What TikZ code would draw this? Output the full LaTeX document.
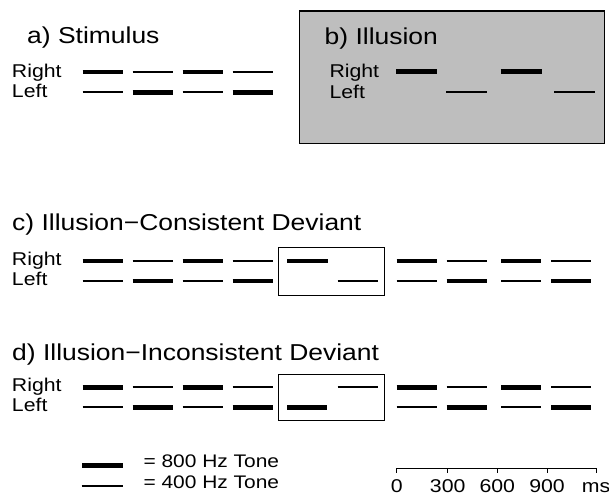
\documentclass[tikz,border=0pt]{standalone}
\usepackage{fontspec}
\usepackage{graphicx}
\setmainfont{Liberation Sans}
\definecolor{panelgray}{RGB}{190,190,190}
\newcommand{\widetext}[1]{\scalebox{1.15}[1]{#1}}
\tikzset{
  hi/.style={line width=4.7pt},
  lo/.style={line width=2pt},
  ttl/.style={anchor=base west, inner sep=0pt, font=\fontsize{23}{27}\selectfont},
  ear/.style={anchor=base west, inner sep=0pt, font=\fontsize{18.5}{22}\selectfont},
  lgd/.style={anchor=base west, inner sep=0pt, font=\fontsize{18.2}{21}\selectfont},
  tick/.style={anchor=base, inner sep=0pt, font=\fontsize{18.5}{22}\selectfont}
}
\begin{document}
\begin{tikzpicture}[x=1pt,y=-1pt]
\useasboundingbox (0,0) rectangle (609,498);
% a) stimulus
\node[ttl] (ta) at (27,43.3) {\widetext{a) Stimulus}};
\node[ear] (ra) at (11.8,77.3) {\widetext{Right}};
\node[ear] (la) at (11.8,97.8) {\widetext{Left}};
\foreach \x/\r/\l in {82.5/hi/lo, 132.5/lo/hi, 182.5/hi/lo, 232.5/lo/hi} {
  \draw[\r] (\x,72) -- ++(40,0);
  \draw[\l] (\x,92.3) -- ++(40,0);
}
% b) illusion
\draw[fill=panelgray, line width=1.2pt] (299.3,11) rectangle (604.3,143.3);
\node[ttl] (tb) at (324.5,44) {\widetext{b) Illusion}};
\node[ear] (rb) at (329.3,77.3) {\widetext{Right}};
\node[ear] (lb) at (329.3,98.3) {\widetext{Left}};
\draw[hi] (396,71.7) -- (436.7,71.7);
\draw[lo] (446,92.3) -- (486.7,92.3);
\draw[hi] (500.7,71.7) -- (541.7,71.7);
\draw[lo] (554.3,92.3) -- (595,92.3);
% c) and d) standard tones
\node[ttl] (tc) at (12,230) {\widetext{c) Illusion−Consistent Deviant}};
\node[ttl] (td) at (12,360) {\widetext{d) Illusion−Inconsistent Deviant}};
\foreach \ry/\ly in {261/281, 387.3/407.3} {
  \node[ear] at (11.8,\ry+4.5) {\widetext{Right}};
  \node[ear] at (11.8,\ly+4.5) {\widetext{Left}};
  \foreach \x/\r/\l in {82.7/hi/lo, 132.7/lo/hi, 182.7/hi/lo, 232.7/lo/hi,
                        396.7/hi/lo, 446.7/lo/hi, 501/hi/lo, 551/lo/hi} {
    \draw[\r] (\x,\ry) -- ++(40,0);
    \draw[\l] (\x,\ly) -- ++(40,0);
  }
}
% deviants
\draw[line width=1pt] (278.3,247.7) rectangle (384,295);
\draw[hi] (287.3,261) -- (328.3,261);
\draw[lo] (337.7,281) -- (378.3,281);
\draw[line width=1pt] (278.3,374.3) rectangle (384,420.7);
\draw[hi] (287.3,407.3) -- (327,407.3);
\draw[lo] (337.7,387.3) -- (378.3,387.3);
% legend
\draw[hi] (82.3,465.7) -- (122.7,465.7);
\draw[lo] (81.7,485.7) -- (122.7,485.7);
\node[lgd] (hz8) at (143.3,467.3) {\widetext{= 800 Hz Tone}};
\node[lgd] (hz4) at (143.3,488.3) {\widetext{= 400 Hz Tone}};
% time scale
\coordinate (s0) at (396.7,468.3);
\coordinate (s4) at (596,468.3);
\draw[line width=1pt] (s0) -- (s4);
\foreach \x/\t in {396.7/0, 447.7/300, 497.3/600, 547/900, 596/ms} {
  \draw[line width=1pt] (\x,468.3) -- (\x,472.7);
  \node[tick] at (\x,492.7) {\widetext{\t}};
}
\end{tikzpicture}
\end{document}
